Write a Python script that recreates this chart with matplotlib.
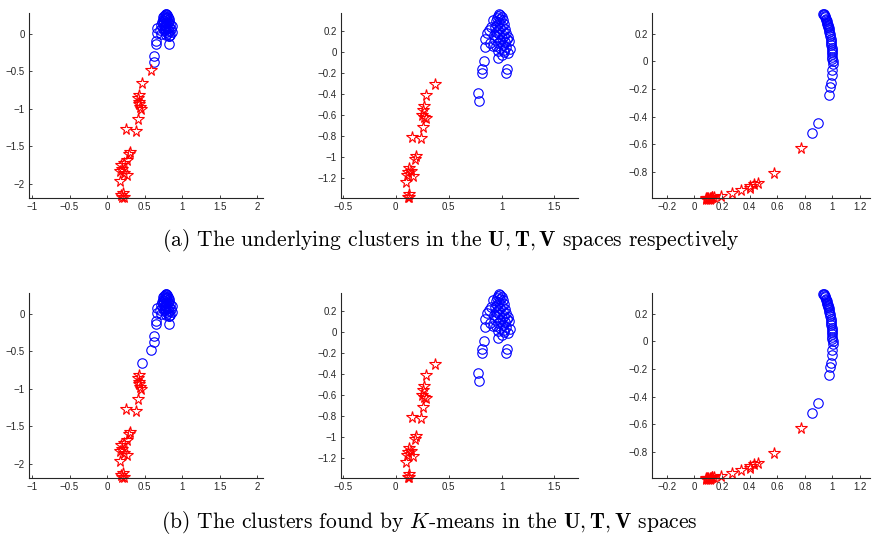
import matplotlib
matplotlib.use('Agg')
import matplotlib.pyplot as plt
import numpy as np

plt.rcParams['mathtext.fontset'] = 'cm'
plt.rcParams['font.family'] = ['Liberation Sans', 'DejaVu Sans']

# ---- U space (panel 1) ----
u_blue = [(0.78, 0.27), (0.79, 0.26), (0.77, 0.25), (0.80, 0.25), (0.76, 0.24), (0.78, 0.23),
          (0.81, 0.23), (0.75, 0.22), (0.79, 0.21), (0.77, 0.20), (0.82, 0.20), (0.74, 0.19),
          (0.80, 0.18), (0.76, 0.17), (0.83, 0.17), (0.73, 0.16), (0.78, 0.15), (0.81, 0.14),
          (0.75, 0.13), (0.84, 0.13), (0.72, 0.12), (0.79, 0.11), (0.77, 0.10), (0.82, 0.09),
          (0.74, 0.08), (0.80, 0.07), (0.85, 0.06), (0.76, 0.05), (0.83, 0.04), (0.78, 0.03),
          (0.81, 0.01), (0.84, -0.01), (0.79, -0.02), (0.82, -0.03), (0.77, 0.07), (0.86, 0.10),
          (0.67, 0.08), (0.67, 0.01), (0.65, -0.10), (0.65, -0.14), (0.82, -0.03), (0.83, -0.14),
          (0.62, -0.30), (0.63, -0.37), (0.87, 0.03), (0.70, 0.05), (0.72, 0.00)]
u_red = [(0.59, -0.48), (0.46, -0.65), (0.42, -0.81), (0.41, -0.85), (0.43, -0.91),
         (0.42, -0.93), (0.44, -0.97), (0.45, -1.00), (0.41, -1.13), (0.25, -1.27),
         (0.38, -1.30), (0.30, -1.57), (0.29, -1.60), (0.27, -1.68), (0.23, -1.72),
         (0.18, -1.75), (0.20, -1.80), (0.17, -1.83), (0.22, -1.85), (0.26, -1.88),
         (0.17, -1.96), (0.21, -2.12), (0.19, -2.15), (0.20, -2.18), (0.22, -2.17)]
# points of u_red that K-means puts in the blue cluster
u_kmeans_moved = [0, 1]

# ---- T space (panel 2) ----
t_blue = [(0.98, 0.36), (0.99, 0.35), (0.97, 0.34), (1.00, 0.33), (0.96, 0.32), (0.99, 0.31),
          (1.01, 0.30), (0.95, 0.29), (0.98, 0.28), (1.02, 0.27), (0.96, 0.26), (1.00, 0.25),
          (0.94, 0.24), (0.99, 0.23), (1.03, 0.22), (0.97, 0.21), (1.01, 0.20), (0.95, 0.19),
          (1.04, 0.18), (0.98, 0.17), (0.93, 0.16), (1.02, 0.15), (0.96, 0.14), (1.00, 0.13),
          (1.05, 0.12), (0.94, 0.11), (0.99, 0.10), (1.03, 0.09), (0.97, 0.08), (1.01, 0.07),
          (0.95, 0.06), (1.04, 0.05), (0.99, 0.04), (1.02, 0.02), (0.97, 0.01), (1.06, 0.14),
          (1.07, 0.10), (0.84, 0.127), (0.84, 0.05), (0.83, -0.09), (0.82, -0.16), (0.82, -0.20),
          (0.97, -0.06), (1.05, -0.16), (1.04, -0.20), (0.78, -0.39), (0.79, -0.47),
          (0.915, 0.30), (0.90, 0.24), (0.88, 0.21), (0.92, 0.06), (1.08, 0.03), (1.06, -0.015),
          (1.02, 0.00), (1.00, -0.03), (0.89, 0.08), (0.86, 0.175)]
t_red = [(0.37, -0.31), (0.29, -0.41), (0.27, -0.515), (0.26, -0.55), (0.25, -0.60),
         (0.27, -0.62), (0.285, -0.63), (0.26, -0.71), (0.15, -0.81), (0.24, -0.82),
         (0.19, -0.995), (0.18, -1.02), (0.13, -1.105), (0.12, -1.14), (0.14, -1.13),
         (0.11, -1.17), (0.16, -1.185), (0.10, -1.24), (0.125, -1.35), (0.115, -1.38),
         (0.13, -1.385)]

# ---- V space (panel 3) ----
v_blue = [(0.935, 0.345), (0.938, 0.34), (0.94, 0.335), (0.945, 0.325), (0.948, 0.318),
          (0.95, 0.31), (0.953, 0.30), (0.957, 0.29), (0.96, 0.28), (0.962, 0.272),
          (0.965, 0.265), (0.968, 0.255), (0.97, 0.248), (0.972, 0.24), (0.975, 0.225),
          (0.978, 0.21), (0.981, 0.195), (0.984, 0.18), (0.987, 0.165), (0.989, 0.15),
          (0.991, 0.135), (0.993, 0.12), (0.995, 0.10), (0.997, 0.085), (0.998, 0.07),
          (0.999, 0.05), (1.0, 0.03), (1.0, 0.015), (1.003, 0.0), (1.006, -0.017),
          (0.999, -0.065), (1.0, -0.10), (0.99, -0.155), (0.98, -0.186), (0.975, -0.246),
          (0.897, -0.445), (0.854, -0.517)]
v_red = [(0.77, -0.63), (0.58, -0.81), (0.46, -0.88), (0.43, -0.89), (0.405, -0.905),
         (0.40, -0.915), (0.34, -0.935), (0.275, -0.955), (0.19, -0.975), (0.14, -0.985),
         (0.125, -0.985), (0.11, -0.99), (0.09, -0.99), (0.08, -0.99), (0.10, -0.995),
         (0.12, -0.99), (0.085, -0.995), (0.13, -0.985), (0.095, -0.99), (0.115, -0.995)]

u_xticks = [-1, -0.5, 0, 0.5, 1, 1.5, 2]
u_yticks = [-2, -1.5, -1, -0.5, 0]
t_xticks = [-0.5, 0, 0.5, 1, 1.5]
t_yticks = [-1.2, -1, -0.8, -0.6, -0.4, -0.2, 0, 0.2]
v_xticks = [-0.2, 0, 0.2, 0.4, 0.6, 0.8, 1, 1.2]
v_yticks = [-0.8, -0.6, -0.4, -0.2, 0, 0.2]

captions = [r'(a) The underlying clusters in the $\mathbf{U},\mathbf{T},\mathbf{V}$ spaces respectively',
            r'(b) The clusters found by $K$-means in the $\mathbf{U},\mathbf{T},\mathbf{V}$ spaces']

W, H = 878, 541
fig = plt.figure(figsize=(W / 100, H / 100), dpi=100)

def tick_fmt(v):
    s = ('%g' % v)
    return s.replace('-', '\u2212')

def panel(rect, blue, red, xlim, ylim, xt, yt):
    ax = fig.add_axes([rect[0] / W, rect[1] / H, rect[2] / W, rect[3] / H])
    b = np.array(blue)
    r = np.array(red)
    ax.plot(b[:, 0], b[:, 1], 'o', mfc='none', mec='#0000ff', ms=6.8, mew=0.8, clip_on=False)
    ax.plot(r[:, 0], r[:, 1], '*', mfc='none', mec='#ff0000', ms=8.5, mew=0.8, clip_on=False)
    ax.set_xlim(xlim)
    ax.set_ylim(ylim)
    ax.set_xticks(xt)
    ax.set_yticks(yt)
    ax.set_xticklabels([tick_fmt(v) for v in xt])
    ax.set_yticklabels([tick_fmt(v) for v in yt])
    for s in ['top', 'right']:
        ax.spines[s].set_visible(False)
    for s in ['left', 'bottom']:
        ax.spines[s].set_color('#262626')
        ax.spines[s].set_linewidth(0.8)
    ax.tick_params(direction='in', length=2.5, width=0.6, labelsize=7,
                   colors='#262626', pad=3)
    ax.patch.set_alpha(0)
    return ax

for row, top in enumerate([13, 293]):
    bottom_px = H - (top + 185)
    if row == 0:
        ub, ur = u_blue, u_red
    else:
        ub = u_blue + [u_red[i] for i in u_kmeans_moved]
        ur = [p for i, p in enumerate(u_red) if i not in u_kmeans_moved]
    panel((29, bottom_px, 234, 185), ub, ur, (-1.04, 2.08), (-2.19, 0.28), u_xticks, u_yticks)
    panel((340.7, bottom_px, 237, 185), t_blue, t_red, (-0.52, 1.72), (-1.39, 0.37), t_xticks, t_yticks)
    panel((651.7, bottom_px, 218, 185), v_blue, v_red, (-0.31, 1.27), (-0.99, 0.35), v_xticks, v_yticks)

fig.text(451 / W, 1 - 240 / H, captions[0], fontfamily='cmr10', fontsize=15.5,
         ha='center', va='center')
fig.text(429 / W, 1 - 522 / H, captions[1], fontfamily='cmr10', fontsize=15.5,
         ha='center', va='center')

fig.savefig('out.png', dpi=100, facecolor='white')
